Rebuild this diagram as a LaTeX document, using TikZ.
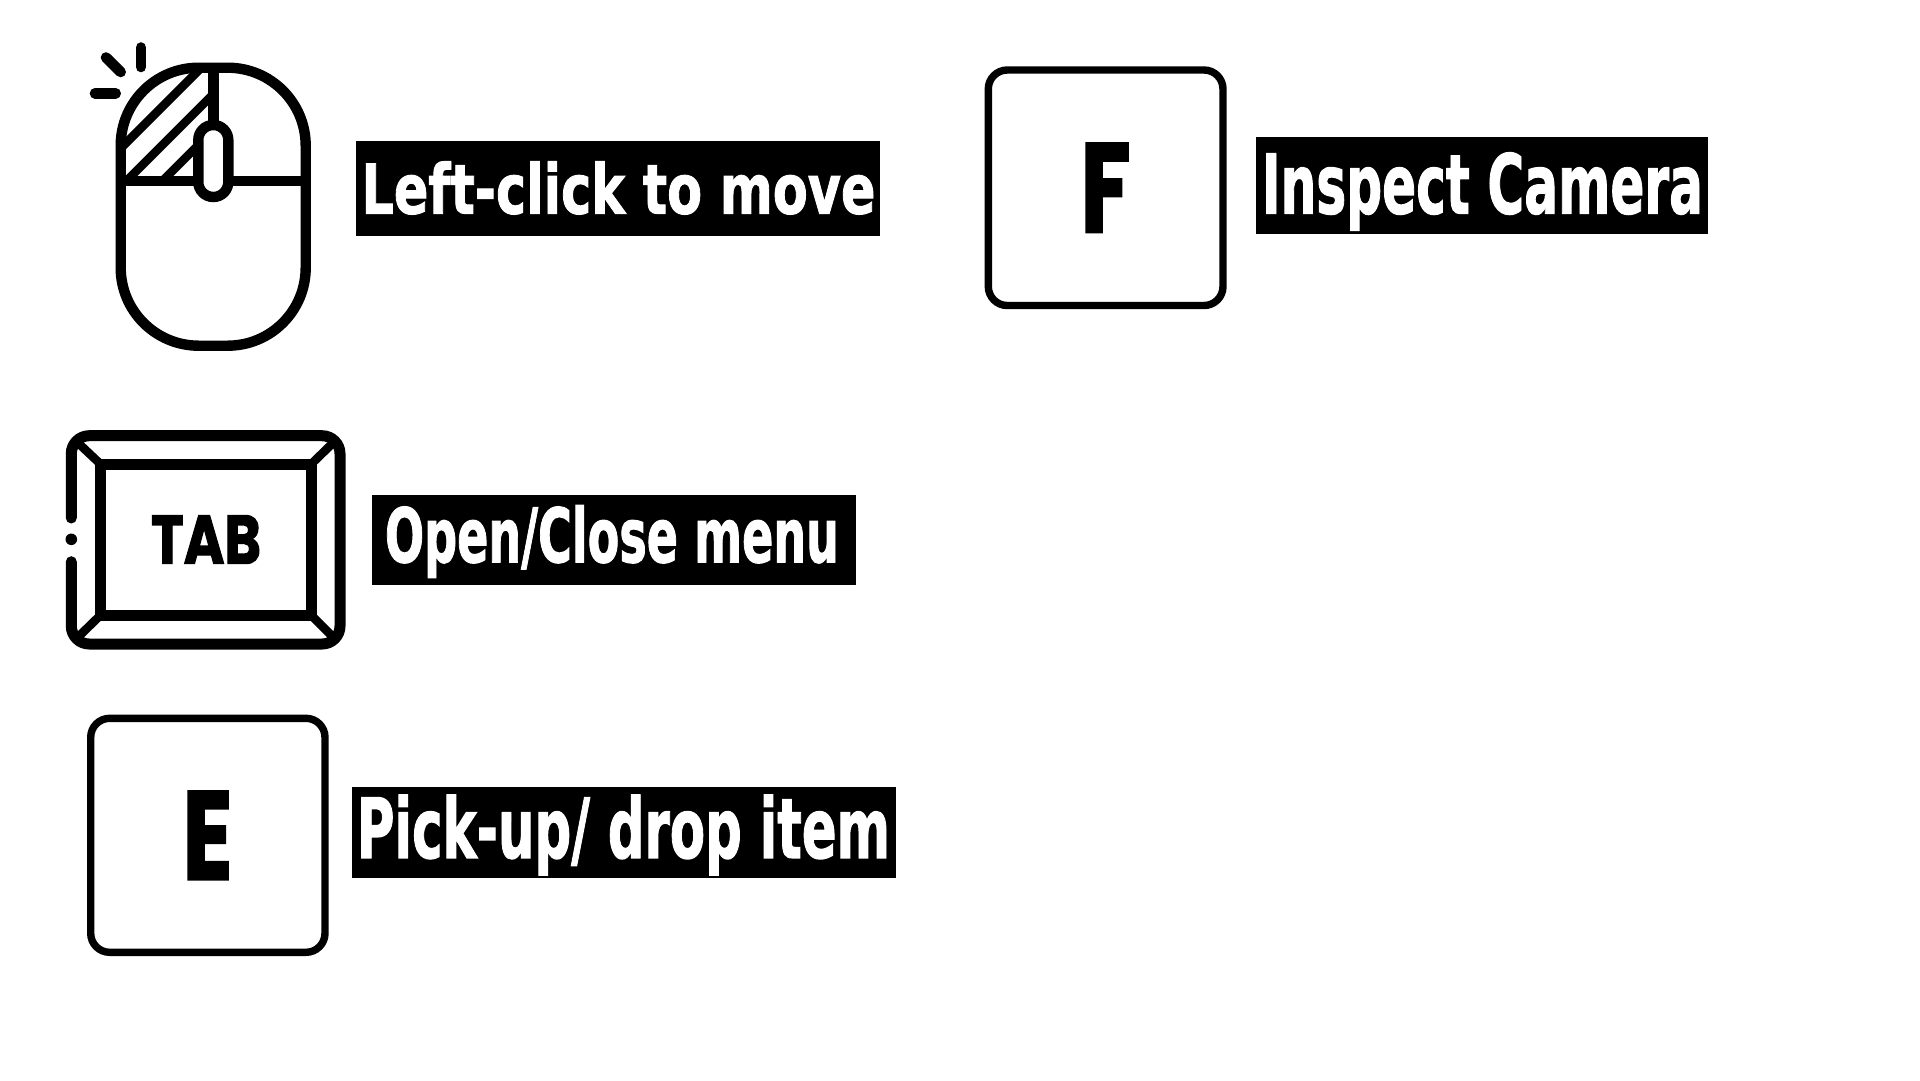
\documentclass[tikz,border=0pt]{standalone}
\usepackage{fontspec}
\setmainfont[FakeBold=1.6]{DejaVu Sans}
\newfontfamily\keyfont[FakeBold=2]{Poppins}
\newcommand{\fitink}[3]{\resizebox{#1pt}{#2pt}{#3}}
\tikzset{
  x=1pt,y=-1pt,
  keyline/.style={draw=black,line width=7.4pt,rounded corners=19pt,fill=white},
  iconline/.style={draw=black,line width=10.4pt},
  hatch/.style={draw=black,line width=8.6pt},
  spark/.style={draw=black,line width=10.6pt,line cap=round},
  tabdiag/.style={draw=black,line width=8.6pt},
  bar/.style={fill=black,draw=none,inner sep=0pt,outer sep=0pt,anchor=north west},
  labeltext/.style={text=white,inner sep=0pt,outer sep=0pt,font=\bfseries},
  keytext/.style={text=black,inner sep=0pt,outer sep=0pt,font=\keyfont\bfseries},
}
\begin{document}
\begin{tikzpicture}
\useasboundingbox (0,0) rectangle (1920,1080);
\fill[white] (0,0) rectangle (1920,1080);
% mouse
\draw[spark] (141,47.5) -- (141,67);
\draw[spark] (106,57.5) -- (120.7,72);
\draw[spark] (95,93.3) -- (115.7,93.3);
\draw[hatch] (122,147) -- (199,70);
\draw[hatch] (127,180.4) -- (213,94.4);
\draw[hatch] (163,180.4) -- (198,145.4);
\draw[iconline] (120.7,180.7) -- (305.7,180.7);
\draw[iconline] (213.3,67.7) -- (213.3,125);
\draw[iconline,rounded corners=78pt] (120.7,67.7) rectangle (305.7,345.7);
\draw[iconline,fill=white,rounded corners=15pt] (198.3,125) rectangle (228.3,197);
% tab key
\draw[iconline,line width=11pt,line cap=round,rounded corners=18pt] (71.3,518) -- (71.3,435.7) -- (340,435.7) -- (340,644) -- (71.3,644) -- (71.3,561.7);
\fill[black] (71.3,539.3) circle[radius=5.8pt];
\draw[iconline,line width=11pt] (100.7,464.3) rectangle (311,615);
\draw[tabdiag] (75,440) -- (100.7,464.3);
\draw[tabdiag] (336,440) -- (311,464.3);
\draw[tabdiag] (75,640) -- (100.7,615);
\draw[tabdiag] (336,640) -- (311,615);
\node[keytext] (tabtext) at (206,539.5) {\fitink{110}{48}{TAB}};
% F and E keys
\draw[keyline] (988.3,70) rectangle (1223,305.5);
\node[keytext] (ftext) at (1105.6,187.7) {\fitink{50}{88.5}{F}};
\draw[keyline] (90.7,718.3) rectangle (325,952.3);
\node[keytext] (etext) at (207.5,835.3) {\fitink{50}{88}{E}};
% labels
\node[bar,minimum width=524pt,minimum height=95pt] (leftbar) at (356,141) {};
\node[labeltext] (lefttext) at (618.5,188) {\fitink{514}{52}{Left-click to move}};
\node[bar,minimum width=452pt,minimum height=97pt] (inspectbar) at (1256,137) {};
\node[labeltext] (inspecttext) at (1482.5,191.5) {\fitink{441}{61}{Inspect Camera}};
\node[bar,minimum width=484pt,minimum height=90pt] (openbar) at (372,495) {};
\node[labeltext] (opentext) at (612,541.5) {\fitink{454}{57}{Open/Close menu}};
\node[bar,minimum width=544pt,minimum height=91pt] (pickbar) at (352,787) {};
\node[labeltext] (picktext) at (623.5,835) {\fitink{533}{63}{Pick-up/ drop item}};
\end{tikzpicture}
\end{document}
